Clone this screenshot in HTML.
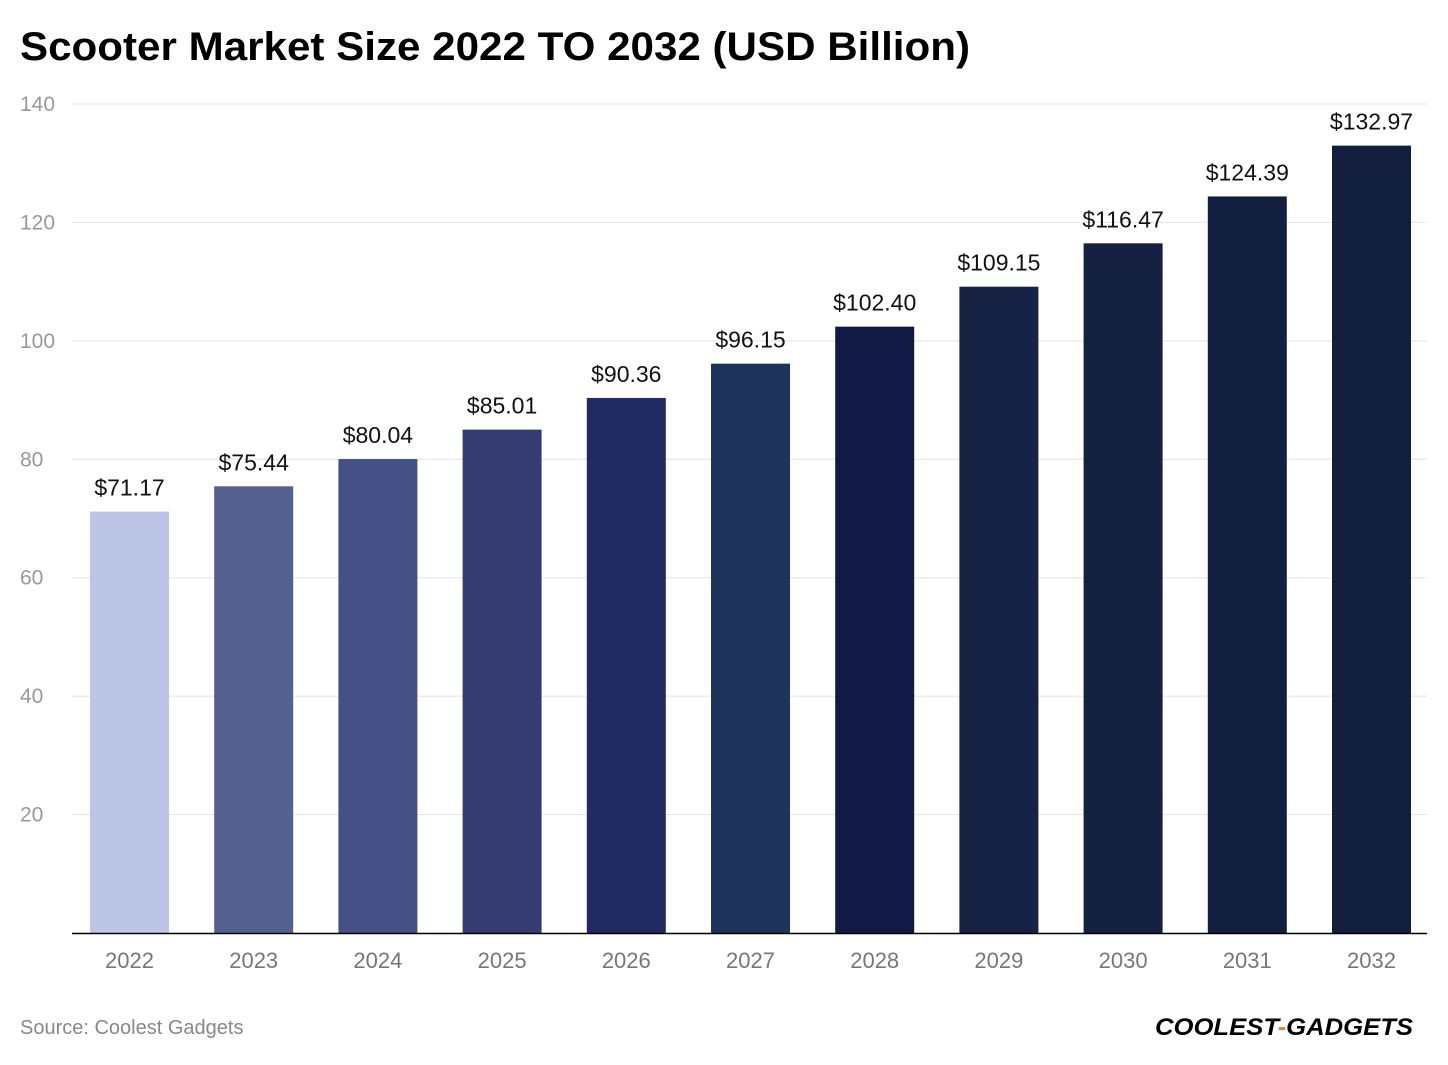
<!DOCTYPE html>
<html><head><meta charset="utf-8"><style>
body{margin:0;background:#fff;width:1448px;height:1060px;overflow:hidden;font-family:"Liberation Sans",sans-serif}
</style></head><body>
<svg width="1448" height="1060">
<text x="20" y="60" font-size="40" font-weight="bold" fill="#000" textLength="950" lengthAdjust="spacingAndGlyphs">Scooter Market Size 2022 TO 2032 (USD Billion)</text>
<g id="grid"></g><g id="bars"></g>
<line x1="72" x2="1427" y1="933.5" y2="933.5" stroke="#000" stroke-width="1.5"/>
<text x="20" y="1034" font-size="20" fill="#888">Source: Coolest Gadgets</text>
<text x="1155" y="1035" font-size="24" font-weight="bold" font-style="italic" fill="#000" textLength="258" lengthAdjust="spacingAndGlyphs">COOLEST<tspan fill="#f07c2c">-</tspan>GADGETS</text>
</svg>
<script>
const categories=["2022","2023","2024","2025","2026","2027","2028","2029","2030","2031","2032"];
const values=[71.17,75.44,80.04,85.01,90.36,96.15,102.40,109.15,116.47,124.39,132.97];
const labels=["$71.17","$75.44","$80.04","$85.01","$90.36","$96.15","$102.40","$109.15","$116.47","$124.39","$132.97"];
const ticks=[20,40,60,80,100,120,140];
const colors=["#bcc5e5","#54608d","#455087","#343c72","#222a62","#1f345c","#101a45","#172345","#142140","#131f3e","#131f3e"];
const NS="http://www.w3.org/2000/svg";
const y=v=>933-v*(829/140);
const x=i=>90+i*124.2;
const g=document.getElementById("grid"),b=document.getElementById("bars");
function mk(t,a,p){const e=document.createElementNS(NS,t);for(const k in a)e.setAttribute(k,a[k]);p.appendChild(e);return e;}
ticks.forEach(t=>{
 const l=mk("line",{x1:72,x2:1427,y1:y(t),y2:y(t),stroke:"#e2e2e2"},g);
 
 
 const tx=mk("text",{x:20,y:y(t)+7,"font-size":21,fill:"#999"},g);
 
 
 tx.textContent=t;
});
categories.forEach((c,i)=>{
 const r=mk("rect",{x:x(i),y:y(values[i]),width:79,height:933-y(values[i]),fill:colors[i]},b);
 
 
 const v=mk("text",{x:x(i)+39.5,y:y(values[i])-16,"font-size":23,fill:"#111","text-anchor":"middle"},b);
 
 
 v.textContent=labels[i];
 const t=mk("text",{x:x(i)+39.5,y:968,"font-size":22,fill:"#777","text-anchor":"middle"},b);
 
 
 t.textContent=c;
});
</script>
</body></html>
